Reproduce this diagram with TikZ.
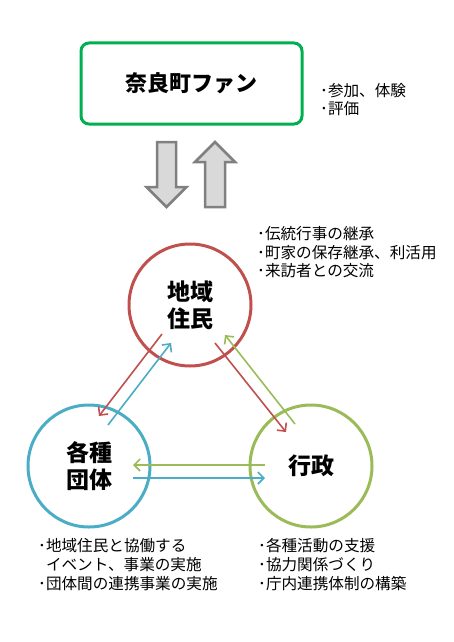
\documentclass[tikz,border=0pt]{standalone}
\usepackage{fontspec}
\setmainfont{Noto Sans CJK JP}
\usetikzlibrary{positioning, arrows.meta, calc}
\definecolor{verdeFan}{RGB}{0,176,80}
\definecolor{vermelho}{RGB}{192,80,77}
\definecolor{azul}{RGB}{75,172,198}
\definecolor{verde}{RGB}{155,187,89}
\definecolor{cinzaSeta}{RGB}{217,217,217}
\definecolor{cinzaBorda}{RGB}{128,128,128}

\begin{document}
\begin{tikzpicture}[x=1pt, y=-1pt,
    circulo/.style={circle, line width=3pt, minimum size=122pt, inner sep=0pt,
      align=center, font=\fontsize{23}{27}\selectfont\bfseries},
    seta/.style={line width=1.6pt, -{Straight Barb[length=6pt, width=12pt]}},
    bloco/.style={fill=cinzaSeta, draw=cinzaBorda, line width=2.5pt},
    lista/.style={anchor=west, inner sep=0pt, align=left,
      font=\fontsize{15.6}{19}\selectfont}]
    \useasboundingbox (0,0) rectangle (453,642);
    % Caixa superior
    \node[draw=verdeFan, line width=3pt, rounded corners=8pt, minimum width=221pt,
      minimum height=81pt, font=\fontsize{22}{26}\selectfont\bfseries]
      (fan) at (191.5,83.5) {奈良町ファン};
    \node[lista, font=\fontsize{15.6}{17.5}\selectfont] (fanItens) at (320,99.5)
      {･参加、体験\\･評価};
    % Setas largas
    \draw[bloco] (157,142) -- (176,142) -- (176,187) -- (186.5,187) -- (166.5,207)
      -- (146.5,187) -- (157,187) -- cycle;
    \draw[bloco] (215,142) -- (235,162) -- (225,162) -- (225,207) -- (205,207)
      -- (205,162) -- (195,162) -- cycle;
    % Circulos
    \node[circulo, draw=vermelho] (jumin) at (190,305) {地域\\住民};
    \node[circulo, draw=azul] (dantai) at (89,466) {各種\\団体};
    \node[circulo, draw=verde] (gyosei) at (311,466) {行政};
    % Setas entre circulos
    \draw[seta, vermelho] ($(jumin)+(-28,29)$) -- ($(dantai)+(10,-50)$);
    \draw[seta, azul] ($(dantai)+(19,-41)$) -- ($(jumin)+(-19,38)$);
    \draw[seta, vermelho] ($(jumin)+(25,38)$) -- ($(gyosei)+(-25,-34)$);
    \draw[seta, verde] ($(gyosei)+(-16,-42)$) -- ($(jumin)+(35,30)$);
    \draw[seta, verde] ($(gyosei)+(-46,-1)$) -- ($(dantai)+(44,-1)$);
    \draw[seta, azul] ($(dantai)+(44,12)$) -- ($(gyosei)+(-46,12)$);
    % Listas
    \node[lista, font=\fontsize{15.6}{18.5}\selectfont] (juminItens) at (257,252.5)
      {･伝統行事の継承\\･町家の保存継承、利活用\\･来訪者との交流};
    \node[lista] (dantaiItens) at (38,565)
      {･地域住民と協働する\\\hphantom{･}イベント、事業の実施\\･団体間の連携事業の実施};
    \node[lista] (gyoseiItens) at (258,565)
      {･各種活動の支援\\･協力関係づくり\\･庁内連携体制の構築};
\end{tikzpicture}
\end{document}
